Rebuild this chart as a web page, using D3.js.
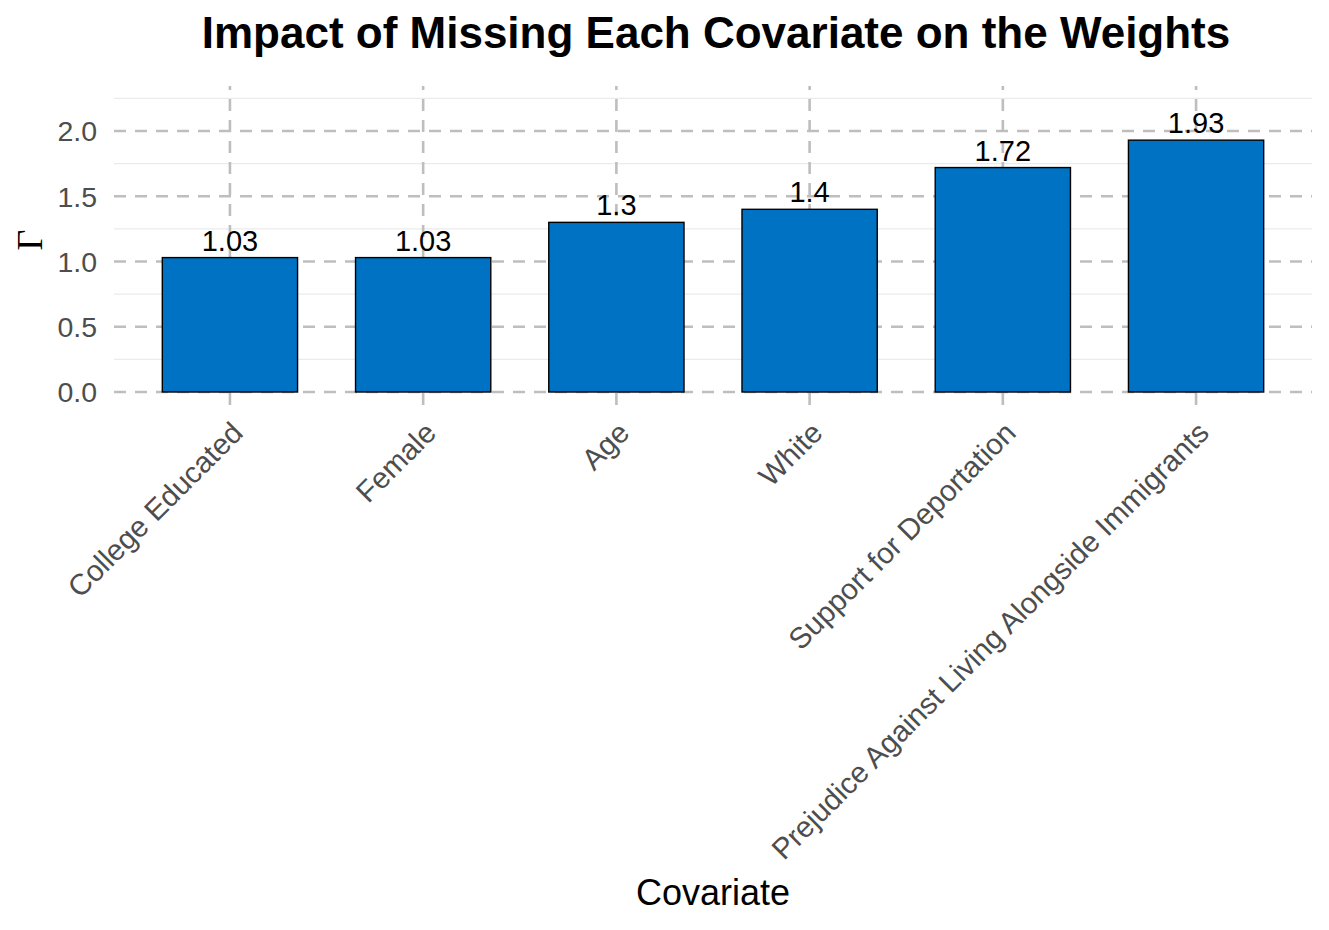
<!DOCTYPE html>
<html>
<head>
<meta charset="utf-8">
<script src="https://cdn.jsdelivr.net/npm/d3@7"></script>
<style>
  body { margin: 0; background: #fff; }
  text { font-family: "Liberation Sans", Arial, Helvetica, sans-serif; }
</style>
</head>
<body>
<svg id="chart" width="1329" height="930"></svg>
<script>
const categories = ["College Educated", "Female", "Age", "White", "Support for Deportation", "Prejudice Against Living Alongside Immigrants"];
const values = [1.03, 1.03, 1.3, 1.4, 1.72, 1.93];
const labels = ["1.03", "1.03", "1.3", "1.4", "1.72", "1.93"];
const yTicks = [0, 0.5, 1.0, 1.5, 2.0];
const yMinor = [0.25, 0.75, 1.25, 1.75, 2.25];

const svg = d3.select("#chart");
const panel = { left: 114, right: 1312, top: 86, bottom: 405 };

const x = d3.scalePoint().domain(categories).range([panel.left, panel.right]).padding(0.6);
const y = d3.scaleLinear().domain([-0.0996, 2.345]).range([panel.bottom, panel.top]);
const barW = x.step() * 0.7;

// minor grid
svg.append("g").selectAll("line").data(yMinor).join("line")
  .attr("x1", panel.left).attr("x2", panel.right)
  .attr("y1", d => y(d)).attr("y2", d => y(d))
  .attr("stroke", "#ebebeb").attr("stroke-width", 1.1);

// major grid y
svg.append("g").selectAll("line").data(yTicks).join("line")
  .attr("x1", panel.left).attr("x2", panel.right)
  .attr("y1", d => y(d)).attr("y2", d => y(d))
  .attr("stroke", "#bebebe").attr("stroke-width", 2.6)
  .attr("stroke-dasharray", "12,9");

// major grid x
svg.append("g").selectAll("line").data(categories).join("line")
  .attr("x1", d => x(d)).attr("x2", d => x(d))
  .attr("y1", panel.bottom).attr("y2", panel.top)
  .attr("stroke", "#bebebe").attr("stroke-width", 2.6)
  .attr("stroke-dasharray", "12,9");

// bars
svg.append("g").selectAll("rect").data(categories).join("rect")
  .attr("x", d => x(d) - barW / 2)
  .attr("width", barW)
  .attr("y", (d, i) => y(values[i]))
  .attr("height", (d, i) => y(0) - y(values[i]))
  .attr("fill", "#0072c3")
  .attr("stroke", "#000").attr("stroke-width", 1.4);

// value labels
svg.append("g").selectAll("text").data(categories).join("text")
  .attr("x", d => x(d))
  .attr("y", (d, i) => y(values[i]) - 7)
  .attr("text-anchor", "middle")
  .attr("font-size", 29)
  .attr("fill", "#000")
  .text((d, i) => labels[i]);

// y axis tick labels
svg.append("g").selectAll("text").data(yTicks).join("text")
  .attr("x", 97)
  .attr("y", d => y(d))
  .attr("dy", "0.36em")
  .attr("text-anchor", "end")
  .attr("font-size", 28.5)
  .attr("fill", "#4d4d4d")
  .text(d => d3.format(".1f")(d));

// x axis tick labels
svg.append("g").selectAll("text").data(categories).join("text")
  .attr("transform", d => `translate(${x(d) - 1},${panel.bottom + 14}) rotate(-45)`)
  .attr("dy", "0.75em")
  .attr("text-anchor", "end")
  .attr("font-size", 29.5)
  .attr("fill", "#4d4d4d")
  .text(d => d);

// y axis title
svg.append("text")
  .attr("transform", `translate(42,240) rotate(-90)`)
  .attr("text-anchor", "middle")
  .attr("font-size", 36)
  .style("font-family", "'Liberation Serif', 'DejaVu Serif', serif")
  .attr("fill", "#000")
  .text("Γ");

// x axis title
svg.append("text")
  .attr("x", 713)
  .attr("y", 905)
  .attr("text-anchor", "middle")
  .attr("font-size", 36)
  .attr("fill", "#000")
  .text("Covariate");

// title
svg.append("text")
  .attr("x", 716)
  .attr("y", 48)
  .attr("text-anchor", "middle")
  .attr("font-size", 44)
  .attr("font-weight", "bold")
  .attr("fill", "#000")
  .text("Impact of Missing Each Covariate on the Weights");
</script>
</body>
</html>
